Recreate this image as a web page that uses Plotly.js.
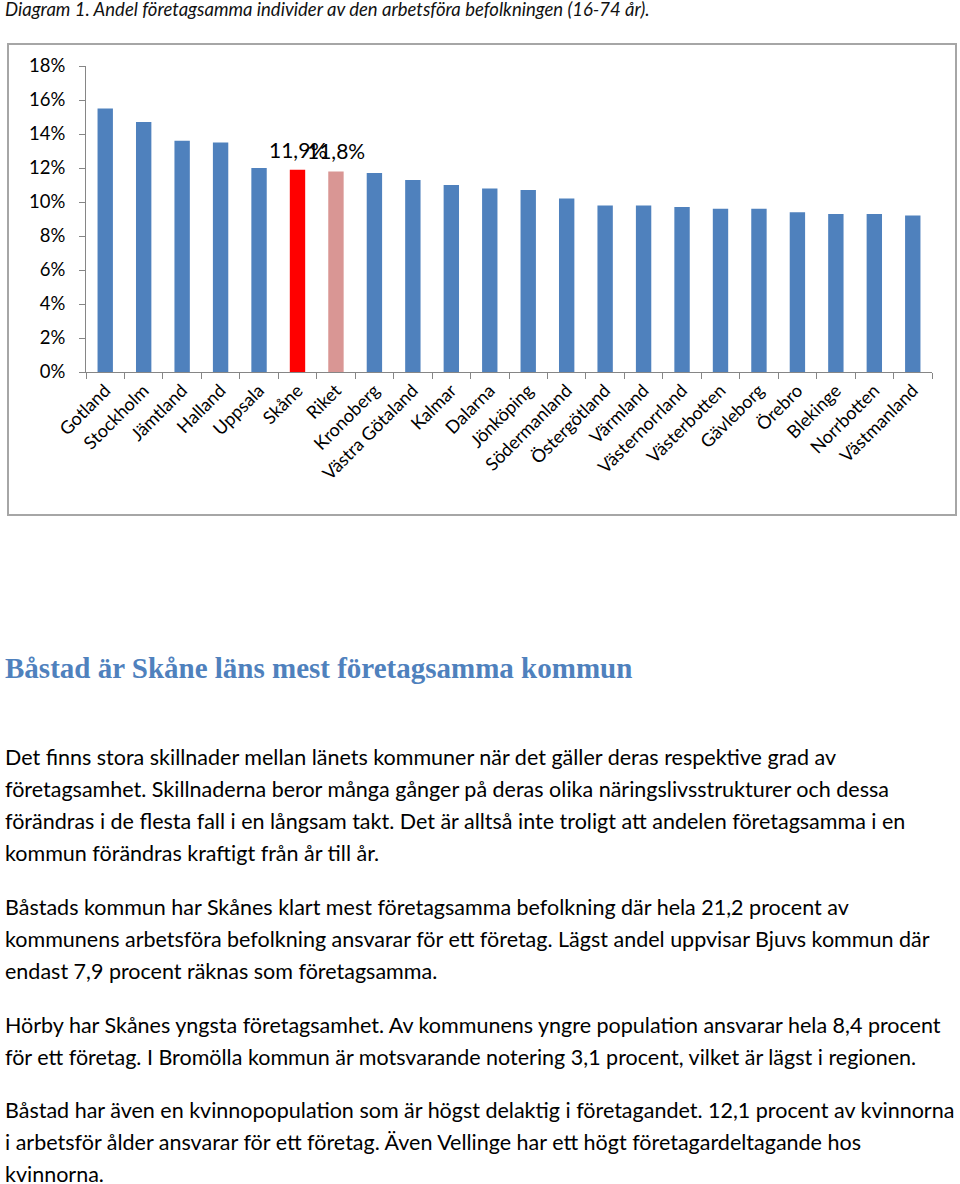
<!DOCTYPE html>
<html>
<head>
<meta charset="utf-8">
<script src="https://cdn.plot.ly/plotly-3.0.1.min.js"></script>
<style>
  html, body { margin: 0; padding: 0; background: #fff; }
  body { width: 960px; height: 1184px; position: relative; overflow: hidden; font-family: Lato, "Open Sans", sans-serif; color: #000; }
  .caption { position: absolute; left: 5px; top: 0px; font-style: italic; font-size: 18.5px; line-height: 18px; white-space: nowrap; color: #111; }
  #chartbox { position: absolute; left: 7px; top: 43px; width: 946px; height: 469px; border: 2px solid #a6a6a6; }
  #chart { width: 946px; height: 469px; }
  .heading { position: absolute; left: 5px; top: 648px; font-family: "Liberation Serif", "DejaVu Serif", serif; font-weight: bold; font-size: 29px; line-height: 40px; color: #4f81bd; white-space: nowrap; }
  .para { position: absolute; left: 5px; font-size: 21.5px; line-height: 32px; white-space: nowrap; color: #000; }
</style>
</head>
<body>
<div class="caption">Diagram 1. Andel företagsamma individer av den arbetsföra befolkningen (16-74 år).</div>
<div id="chartbox"><div id="chart"></div></div>
<div class="heading">Båstad är Skåne läns mest företagsamma kommun</div>
<div class="para" style="top:741px">Det finns stora skillnader mellan länets kommuner när det gäller deras respektive grad av<br>företagsamhet. Skillnaderna beror många gånger på deras olika näringslivsstrukturer och dessa<br>förändras i de flesta fall i en långsam takt. Det är alltså inte troligt att andelen företagsamma i en<br>kommun förändras kraftigt från år till år.</div>
<div class="para" style="top:891px">Båstads kommun har Skånes klart mest företagsamma befolkning där hela 21,2 procent av<br>kommunens arbetsföra befolkning ansvarar för ett företag. Lägst andel uppvisar Bjuvs kommun där<br>endast 7,9 procent räknas som företagsamma.</div>
<div class="para" style="top:1009px">Hörby har Skånes yngsta företagsamhet. Av kommunens yngre population ansvarar hela 8,4 procent<br>för ett företag. I Bromölla kommun är motsvarande notering 3,1 procent, vilket är lägst i regionen.</div>
<div class="para" style="top:1094px">Båstad har även en kvinnopopulation som är högst delaktig i företagandet. 12,1 procent av kvinnorna<br>i arbetsför ålder ansvarar för ett företag. Även Vellinge har ett högt företagardeltagande hos<br>kvinnorna.</div>
<script>
const categories = ["Gotland","Stockholm","Jämtland","Halland","Uppsala","Skåne","Riket","Kronoberg","Västra Götaland","Kalmar","Dalarna","Jönköping","Södermanland","Östergötland","Värmland","Västernorrland","Västerbotten","Gävleborg","Örebro","Blekinge","Norrbotten","Västmanland"];
const values = [15.5, 14.7, 13.6, 13.5, 12.0, 11.9, 11.8, 11.7, 11.3, 11.0, 10.8, 10.7, 10.2, 9.8, 9.8, 9.7, 9.6, 9.6, 9.4, 9.3, 9.3, 9.2];
const yTickValues = [0, 2, 4, 6, 8, 10, 12, 14, 16, 18];
const labelledCategories = ["Skåne", "Riket"];

const baseColor = "#4f81bd";
const highlightColors = { "Skåne": "#ff0000", "Riket": "#d99694" };
const barColors = categories.map(c => highlightColors[c] || baseColor);
const fmt = v => v.toFixed(1).replace(".", ",") + "%";

const annotations = labelledCategories.map(c => {
  const i = categories.indexOf(c);
  return {
    x: c, y: values[i], xref: "x", yref: "y", text: fmt(values[i]),
    showarrow: false, yanchor: "bottom", yshift: 6,
    font: { family: "Lato, 'Open Sans', sans-serif", size: 21, color: "#000" }
  };
});

const trace = {
  type: "bar", x: categories, y: values,
  marker: { color: barColors, line: { width: 0 } },
  hoverinfo: "skip"
};

const layout = {
  width: 946, height: 469,
  margin: { l: 77, r: 23, t: 21, b: 142 },
  paper_bgcolor: "#fff", plot_bgcolor: "#fff",
  showlegend: false, bargap: 0.6,
  font: { family: "Lato, 'Open Sans', sans-serif", size: 18, color: "#000" },
  xaxis: {
    type: "category", showline: true, linecolor: "#868686", linewidth: 1,
    ticks: "outside", ticklen: 6, tickcolor: "#868686", tickson: "boundaries",
    tickangle: -45, showgrid: false, zeroline: false,
    tickfont: { size: 18, color: "#000" }
  },
  yaxis: {
    range: [0, 18], tickvals: yTickValues, ticktext: yTickValues.map(v => v + "%"),
    showline: true, linecolor: "#868686", linewidth: 1,
    ticks: "outside", ticklen: 6, tickcolor: "#868686",
    showgrid: false, zeroline: false, ticklabelstandoff: 10,
    tickfont: { size: 18.5, color: "#000" }
  },
  annotations: annotations
};

Plotly.newPlot("chart", [trace], layout, { displayModeBar: false, staticPlot: true });
</script>
</body>
</html>
